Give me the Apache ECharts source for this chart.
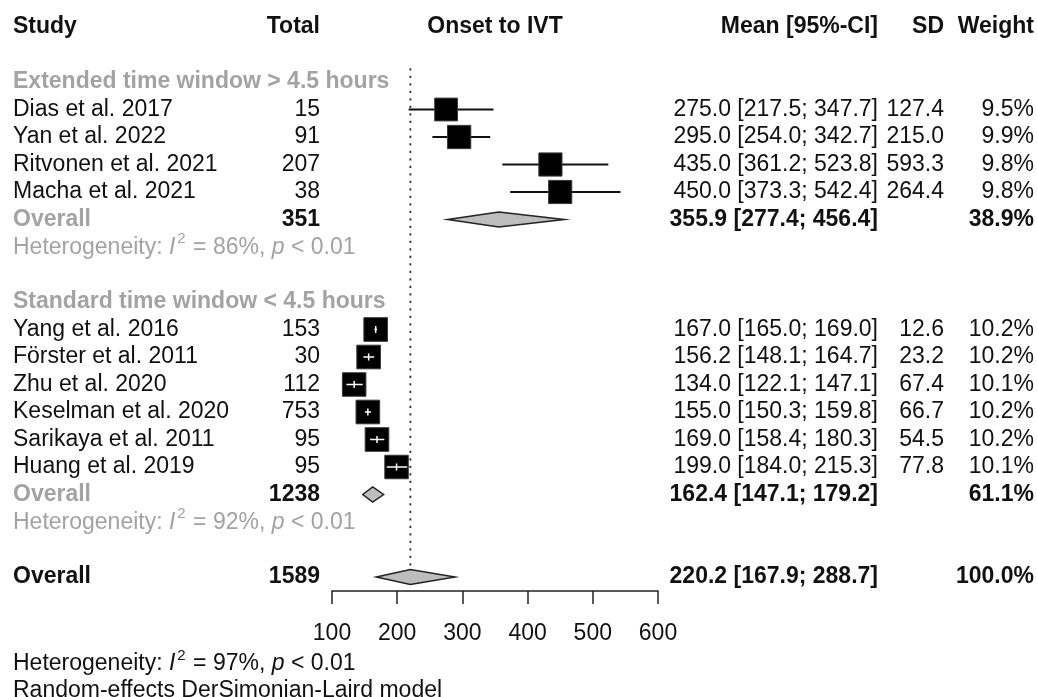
<!DOCTYPE html>
<html><head><meta charset="utf-8">
<script src="https://cdn.jsdelivr.net/npm/echarts@6/dist/echarts.min.js"></script>
<style>html,body{margin:0;padding:0;background:#fff}#c{width:1037px;height:697px}</style>
</head><body><div id="c"></div>
<script>
// ---------- data ----------
const headers = ['Study', 'Total', 'Onset to IVT', 'Mean [95%-CI]', 'SD', 'Weight'];
const groupNames = ['Extended time window > 4.5 hours', 'Standard time window < 4.5 hours'];
const studies = ['Dias et al. 2017', 'Yan et al. 2022', 'Ritvonen et al. 2021', 'Macha et al. 2021',
  'Yang et al. 2016', 'Förster et al. 2011', 'Zhu et al. 2020', 'Keselman et al. 2020', 'Sarikaya et al. 2011', 'Huang et al. 2019'];
const studyGroup = [0, 0, 0, 0, 1, 1, 1, 1, 1, 1];
const totals = [15, 91, 207, 38, 153, 30, 112, 753, 95, 95];
const means = [275.0, 295.0, 435.0, 450.0, 167.0, 156.2, 134.0, 155.0, 169.0, 199.0];
const ciLow = [217.5, 254.0, 361.2, 373.3, 165.0, 148.1, 122.1, 150.3, 158.4, 184.0];
const ciHigh = [347.7, 342.7, 523.8, 542.4, 169.0, 164.7, 147.1, 159.8, 180.3, 215.3];
const sds = [127.4, 215.0, 593.3, 264.4, 12.6, 23.2, 67.4, 66.7, 54.5, 77.8];
const weights = [9.5, 9.9, 9.8, 9.8, 10.2, 10.2, 10.1, 10.2, 10.2, 10.1];
const groupTotals = [351, 1238];
const groupMeans = [355.9, 162.4];
const groupLow = [277.4, 147.1];
const groupHigh = [456.4, 179.2];
const groupWeights = [38.9, 61.1];
const groupI2 = [86, 92];
const groupP = ['< 0.01', '< 0.01'];
const overallTotal = [1589];
const overallMean = [220.2];
const overallLow = [167.9];
const overallHigh = [288.7];
const overallWeight = [100.0];
const overallI2 = [97];
const overallP = ['< 0.01'];
const xTicks = [100, 200, 300, 400, 500, 600];
const modelNote = 'Random-effects DerSimonian-Laird model';

// ---------- layout / style ----------
const FONT = '"Liberation Sans", Arial, Helvetica, sans-serif';
const FS = 23;
const GRAY = '#a3a3a3';
const BLACK = '#111';
const X_STUDY = 13, X_TOTAL = 320, X_MEAN = 878, X_SD = 944, X_WEIGHT = 1034;

// build row list from the arrays
const rows = [];
rows.push({ row: 0, kind: 'header' });
let r = 2;
for (let g = 0; g < groupNames.length; g++) {
  rows.push({ row: r++, kind: 'group', g });
  for (let i = 0; i < studies.length; i++) {
    if (studyGroup[i] === g) rows.push({ row: r++, kind: 'study', i });
  }
  rows.push({ row: r++, kind: 'gOverall', g });
  rows.push({ row: r++ - 0.08, kind: 'gHet', g });
  r++;
}
rows.push({ row: r, kind: 'overall' });
rows.push({ row: r + 0.6, kind: 'refline' });
rows.push({ row: r + 3.07, kind: 'het' });
rows.push({ row: r + 4.15, kind: 'note' });
const lastRow = r;

function f1(v) { return v.toFixed(1); }
function ci(m, lo, hi) { return f1(m) + ' [' + f1(lo) + '; ' + f1(hi) + ']'; }

function renderItem(params, api) {
  const d = rows[params.dataIndex];
  const y = api.coord([100, d.row])[1];
  const ch = [];
  const text = (x, s, align, opt) => {
    opt = opt || {};
    ch.push({
      type: 'text', z2: 10,
      style: Object.assign({
        x: x, y: y, text: s, align: align, verticalAlign: 'middle',
        fontFamily: FONT, fontSize: FS, fontWeight: opt.bold ? 'bold' : 'normal',
        fill: opt.color || BLACK
      }, opt.rich ? { rich: opt.rich } : {})
    });
  };
  const hetText = (x, i2, p, color) => {
    const rich = {
      n: { fontFamily: FONT, fontSize: FS, fill: color, lineHeight: 28, verticalAlign: 'bottom' },
      i: { fontFamily: FONT, fontSize: FS, fontStyle: 'italic', fill: color, lineHeight: 28, verticalAlign: 'bottom' },
      s: { fontFamily: FONT, fontSize: 15, fill: color, lineHeight: 16, verticalAlign: 'bottom', padding: [0, 1, 12, 2] }
    };
    text(x, '{n|Heterogeneity: }{i|I}{s|2}{n| = ' + i2 + '%, }{i|p}{n| ' + p + '}', 'left', { color, rich });
  };
  const diamond = (m, lo, hi) => {
    const c = api.coord([m, d.row]), a = api.coord([lo, d.row]), b = api.coord([hi, d.row]);
    const h = 7.5;
    ch.push({ type: 'polygon', z2: 5,
      shape: { points: [[a[0], y], [c[0], y - h], [b[0], y], [c[0], y + h]] },
      style: { fill: '#bdbdbd', stroke: '#222', lineWidth: 1.5 } });
  };

  if (d.kind === 'header') {
    text(X_STUDY, headers[0], 'left', { bold: true });
    text(X_TOTAL, headers[1], 'right', { bold: true });
    const mid = (api.coord([100, 0])[0] + api.coord([600, 0])[0]) / 2;
    text(mid, headers[2], 'center', { bold: true });
    text(X_MEAN, headers[3], 'right', { bold: true });
    text(X_SD, headers[4], 'right', { bold: true });
    text(X_WEIGHT, headers[5], 'right', { bold: true });
  } else if (d.kind === 'group') {
    text(X_STUDY, groupNames[d.g], 'left', { bold: true, color: GRAY });
  } else if (d.kind === 'study') {
    const i = d.i;
    text(X_STUDY, studies[i], 'left');
    text(X_TOTAL, String(totals[i]), 'right');
    text(X_MEAN, ci(means[i], ciLow[i], ciHigh[i]), 'right');
    text(X_SD, f1(sds[i]), 'right');
    text(X_WEIGHT, f1(weights[i]) + '%', 'right');
    const c = api.coord([means[i], d.row]);
    const a = api.coord([ciLow[i], d.row]);
    const b = api.coord([ciHigh[i], d.row]);
    const s = 7.4 * Math.sqrt(weights[i]);
    const inside = a[0] >= c[0] - s / 2 - 1 && b[0] <= c[0] + s / 2 + 1;
    if (!inside) {
      ch.push({ type: 'line', z2: 3, shape: { x1: a[0], y1: y, x2: b[0], y2: y },
        style: { stroke: '#111', lineWidth: 2 } });
    }
    ch.push({ type: 'rect', z2: 4, shape: { x: c[0] - s / 2, y: y - s / 2, width: s, height: s },
      style: { fill: '#000', stroke: '#3a3a3a', lineWidth: 1 } });
    if (inside) {
      ch.push({ type: 'line', z2: 6, shape: { x1: a[0], y1: y, x2: b[0], y2: y },
        style: { stroke: '#fff', lineWidth: 1.5 } });
      ch.push({ type: 'line', z2: 6, shape: { x1: c[0], y1: y - 3.5, x2: c[0], y2: y + 3.5 },
        style: { stroke: '#fff', lineWidth: 1.5 } });
    }
  } else if (d.kind === 'gOverall') {
    const g = d.g;
    text(X_STUDY, 'Overall', 'left', { bold: true, color: GRAY });
    text(X_TOTAL, String(groupTotals[g]), 'right', { bold: true });
    text(X_MEAN, ci(groupMeans[g], groupLow[g], groupHigh[g]), 'right', { bold: true });
    text(X_WEIGHT, f1(groupWeights[g]) + '%', 'right', { bold: true });
    diamond(groupMeans[g], groupLow[g], groupHigh[g]);
  } else if (d.kind === 'gHet') {
    hetText(X_STUDY, groupI2[d.g], groupP[d.g], GRAY);
  } else if (d.kind === 'overall') {
    text(X_STUDY, 'Overall', 'left', { bold: true });
    text(X_TOTAL, String(overallTotal[0]), 'right', { bold: true });
    text(X_MEAN, ci(overallMean[0], overallLow[0], overallHigh[0]), 'right', { bold: true });
    text(X_WEIGHT, f1(overallWeight[0]) + '%', 'right', { bold: true });
    diamond(overallMean[0], overallLow[0], overallHigh[0]);
  } else if (d.kind === 'refline') {
    const top = api.coord([overallMean[0], 1.5]);
    const bot = api.coord([overallMean[0], lastRow]);
    ch.push({ type: 'line', z2: 2, shape: { x1: top[0], y1: top[1], x2: bot[0], y2: bot[1] - 7.5 },
      style: { stroke: '#333', lineWidth: 1.8, lineDash: [2.2, 5.3] } });
  } else if (d.kind === 'het') {
    hetText(X_STUDY, overallI2[0], overallP[0], BLACK);
  } else if (d.kind === 'note') {
    text(X_STUDY, modelNote, 'left');
  }
  return { type: 'group', children: ch };
}

const chart = echarts.init(document.getElementById('c'), null, { renderer: 'canvas' });
chart.setOption({
  backgroundColor: '#fff',
  animation: false,
  grid: { left: 332, width: 326, top: 27, height: 550 },
  xAxis: {
    type: 'value', min: xTicks[0], max: xTicks[xTicks.length - 1], interval: xTicks[1] - xTicks[0],
    position: 'bottom', offset: 14,
    axisLine: { show: true, onZero: false, lineStyle: { color: '#222', width: 1.5 } },
    axisTick: { show: true, inside: false, length: 13, lineStyle: { color: '#222', width: 1.5 } },
    axisLabel: { fontFamily: FONT, fontSize: FS, color: BLACK, margin: 31 },
    splitLine: { show: false }
  },
  yAxis: { type: 'value', min: 0, max: lastRow, inverse: true, show: false },
  series: [{
    type: 'custom', clip: false, silent: true,
    renderItem: renderItem,
    data: rows.map((d, k) => [k])
  }]
});
</script></body></html>
